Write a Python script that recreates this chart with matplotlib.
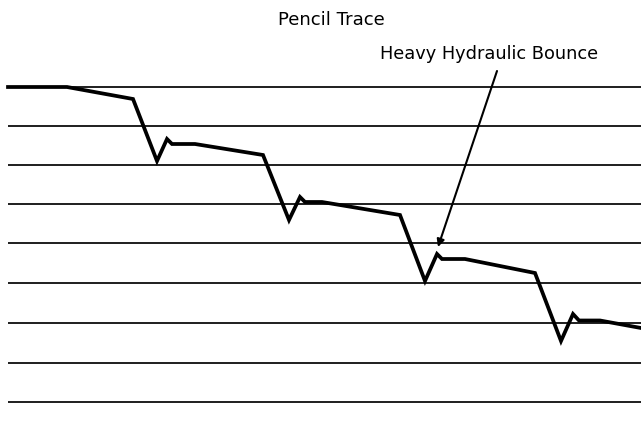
import matplotlib
matplotlib.use("Agg")
import matplotlib.pyplot as plt

# Chart rule lines (vertical position of each ruled line)
rule_y = [87, 126, 164.5, 203.5, 243, 283, 322.5, 362.5, 402]

# Pencil trace vertices
trace_x = [8, 67, 133, 157, 167, 172, 195, 263, 289, 300, 305, 322,
           400, 425, 437, 442, 465, 535, 561, 573, 579, 600, 641]
trace_y = [87, 87, 99, 161, 139, 144, 144, 155, 220, 197, 202, 202,
           215, 281, 254, 259, 259, 273, 341, 314, 320.5, 320.5, 328]

title = "Pencil Trace"
note = "Heavy Hydraulic Bounce"
note_target = (438, 247)
note_tail = (497, 71)

fig = plt.figure(figsize=(6.41, 4.38), dpi=100)
ax = fig.add_axes([0, 0, 1, 1])
ax.set_xlim(0, 641)
ax.set_ylim(438, 0)
ax.axis("off")

for y in rule_y:
    ax.plot([8, 641], [y, y], color="#0d0d0d", lw=1.3, solid_capstyle="butt")

ax.plot(trace_x, trace_y, color="black", lw=2.7, solid_joinstyle="miter")

ax.text(331.5, 20, title, ha="center", va="center", fontsize=13,
        family="DejaVu Sans", color="black")
ax.text(489.5, 54, note, ha="center", va="center", fontsize=12.8,
        family="DejaVu Sans", color="black")
ax.annotate("", xy=note_target, xytext=note_tail,
            arrowprops=dict(arrowstyle="-|>", color="black", lw=1.5,
                            mutation_scale=11, shrinkA=0, shrinkB=0))

fig.savefig("out.png", dpi=100, facecolor="white")
